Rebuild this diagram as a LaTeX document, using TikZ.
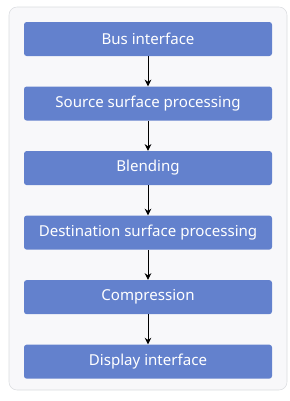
\documentclass[tikz,border=0pt]{standalone}
\usepackage{fontspec}
\setmainfont{Noto Sans}
\usetikzlibrary{positioning,arrows.meta}
\definecolor{boxblue}{HTML}{6381CD}
\definecolor{panelbg}{HTML}{F8F8FA}
\definecolor{panelline}{HTML}{DADCE0}
\tikzset{
  stage/.style={fill=boxblue, text=white, rounded corners=2pt, minimum width=186pt, minimum height=25.5pt, inner sep=0pt, font=\fontsize{11.3}{13}\selectfont},
  flow/.style={draw=black, line width=0.7pt, -{Stealth[length=5pt,width=5pt]}}
}
\begin{document}
\begin{tikzpicture}[x=0.75pt, y=0.75pt, node distance=22.5pt]
	\useasboundingbox (0,0) rectangle (290,-401);
	\draw[panelline, fill=panelbg, rounded corners=6pt] (9,-7) rectangle (287,-390);
	
	\node[stage] (bus) at (148,-39) {Bus interface};
	\node[stage, below=of bus] (src) {Source surface processing};
	\node[stage, below=of src] (blend) {Blending};
	\node[stage, below=of blend] (dst) {Destination surface processing};
	\node[stage, below=of dst] (comp) {Compression};
	\node[stage, below=of comp] (disp) {Display interface};
	
	\draw[flow] (bus) -- (src);
	\draw[flow] (src) -- (blend);
	\draw[flow] (blend) -- (dst);
	\draw[flow] (dst) -- (comp);
	\draw[flow] (comp) -- (disp);
\end{tikzpicture}
\end{document}
